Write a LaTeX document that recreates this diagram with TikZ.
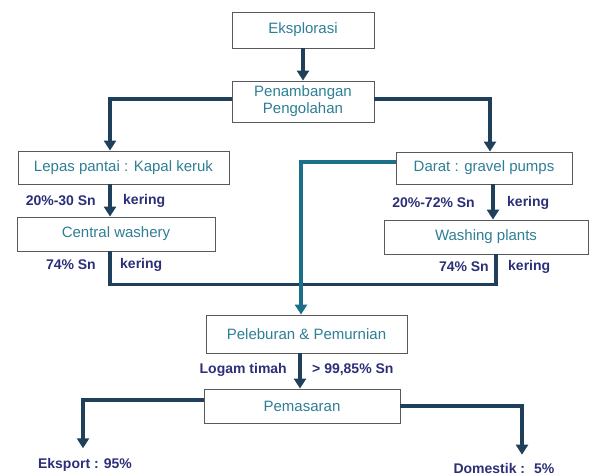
\documentclass[tikz,border=0pt]{standalone}
\usepackage{fontspec}
\setmainfont{Liberation Sans}
\usetikzlibrary{arrows.meta}

\definecolor{boxtext}{HTML}{2E7F96}
\definecolor{arrowdark}{HTML}{1F3F5A}
\definecolor{arrowteal}{HTML}{1B6F8A}
\definecolor{labelnavy}{HTML}{2C2F78}

\tikzset{
	proses/.style={draw=black!65, line width=0.9pt, fill=white, text=boxtext,
		font=\fontsize{15}{17}\selectfont, align=center, inner sep=2pt},
	arr/.style={draw=arrowdark, line width=3.5pt,
		-{Triangle[width=12pt,length=10pt]}},
	jalur/.style={draw=arrowdark, line width=3.5pt},
	lbl/.style={text=labelnavy, font=\fontsize{14}{16}\selectfont\bfseries, inner sep=1pt},
}

\begin{document}
\begin{tikzpicture}[x=1pt, y=-1pt]
	\useasboundingbox (0,0) rectangle (590,475);
	\node[proses, minimum width=142, minimum height=36] (eks) at (303,30) {Eksplorasi};
	\node[proses, minimum width=142, minimum height=41] (pen) at (303,101.5) {Penambangan\\Pengolahan};
	\node[proses, minimum width=211, minimum height=33] (lepas) at (123.5,167.5) {Lepas pantai : Kapal keruk};
	\node[proses, minimum width=176, minimum height=32] (darat) at (484,168) {Darat : gravel pumps};
	\node[proses, minimum width=198, minimum height=34] (central) at (116,234) {Central washery};
	\node[proses, minimum width=204, minimum height=34] (washing) at (486,237) {Washing plants};
	\node[proses, minimum width=201, minimum height=38] (lebur) at (306.5,334) {Peleburan \& Pemurnian};
	\node[proses, minimum width=196, minimum height=34] (pasar) at (302,406) {Pemasaran};
	\node[lbl] (ekspor) at (85,465) {Eksport : 95\%};
	\node[lbl] (domestik) at (504,468) {Domestik : \ 5\%};

	% kadar dan kondisi
	\node[lbl, anchor=east] (kadarA) at (97,201) {20\%-30 Sn};
	\node[lbl, anchor=west] (keringA) at (122,201) {kering};
	\node[lbl, anchor=east] (kadarB) at (476,203) {20\%-72\% Sn};
	\node[lbl, anchor=west] (keringB) at (506,203) {kering};
	\node[lbl, anchor=east] (kadarC) at (97,265) {74\% Sn};
	\node[lbl, anchor=west] (keringC) at (119,265) {kering};
	\node[lbl, anchor=east] (kadarD) at (490,267) {74\% Sn};
	\node[lbl, anchor=west] (keringD) at (507,267) {kering};
	\node[lbl, anchor=east] (logam) at (288,370) {Logam timah};
	\node[lbl, anchor=west] (murni) at (311,370) {> 99,85\% Sn};

	\draw[arr] (eks.south) -- (pen.north);
	\draw[arr] ([yshift=2.5pt]pen.west) -| ([xshift=-13.5pt]lepas.north);
	\draw[arr] ([yshift=2.5pt]pen.east) -| ([xshift=6pt]darat.north);
	\draw[arr] ([xshift=-13.5pt]lepas.south) -- ([xshift=-6pt]central.north);
	\draw[arr] ([xshift=9pt]darat.south) -- ([xshift=7pt]washing.north);
	\draw[jalur] ([xshift=-6pt]central.south) -- ++(0,33) -| ([xshift=10pt]washing.south);
	\draw[arr, draw=arrowteal] ([yshift=6pt]darat.west) -| ([xshift=-5.5pt]lebur.north);
	\draw[arr] ([xshift=-6.5pt]lebur.south) -- ([xshift=-2pt]pasar.north);
	\draw[arr] ([yshift=6pt]pasar.west) -| ([xshift=-2pt,yshift=9pt]ekspor.north);
	\draw[arr] (pasar.east) -| ([xshift=18pt,yshift=7pt]domestik.north);
\end{tikzpicture}
\end{document}
